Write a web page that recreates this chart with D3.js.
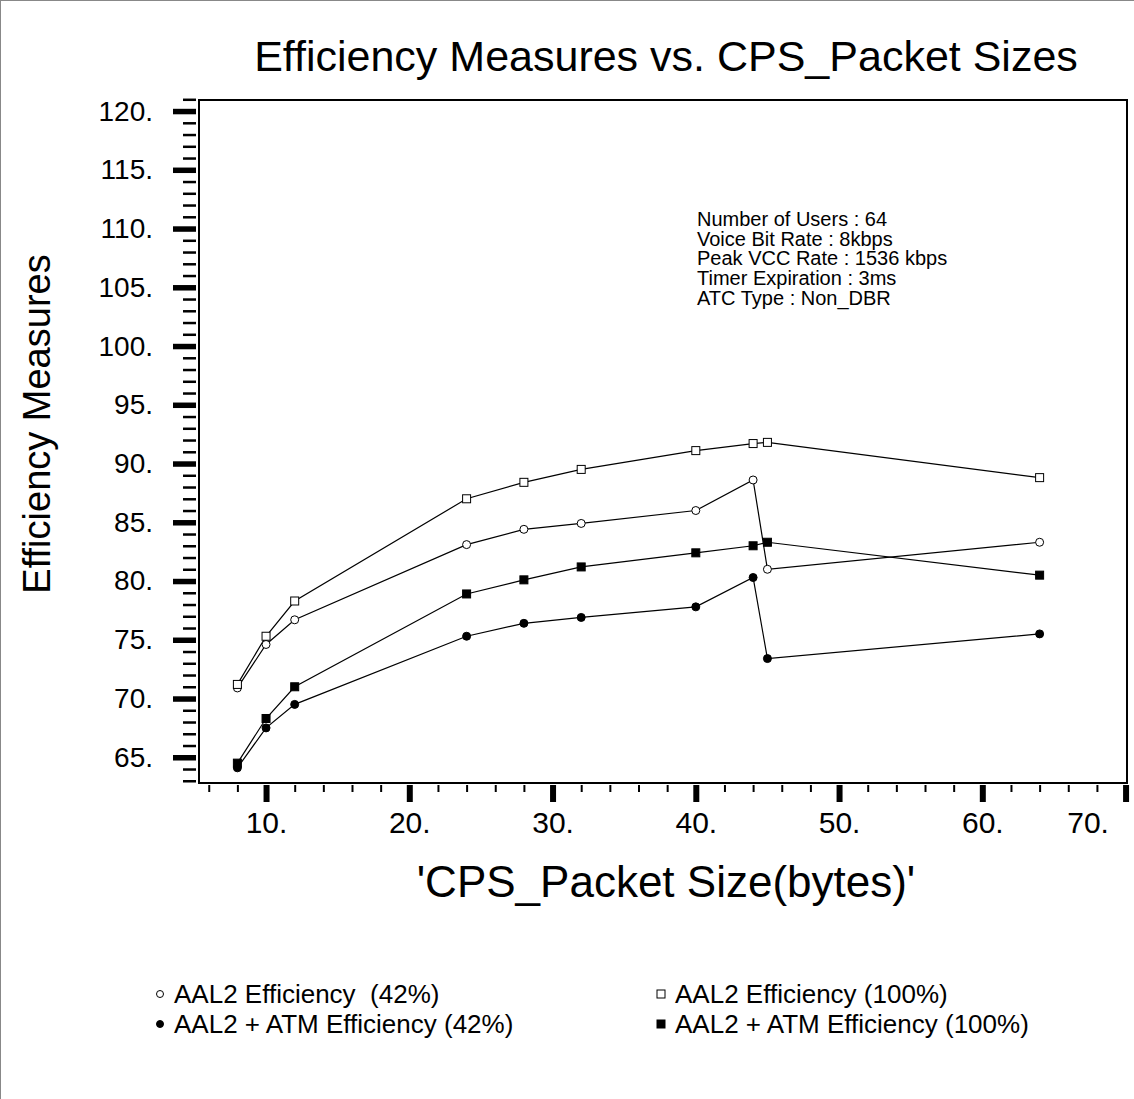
<!DOCTYPE html>
<html>
<head>
<meta charset="utf-8">
<script src="https://cdn.jsdelivr.net/npm/d3@7"></script>
<style>
  html, body { margin: 0; padding: 0; background: #fff; }
  svg { display: block; font-family: "Liberation Sans", Arial, Helvetica, sans-serif; }
</style>
</head>
<body>
<svg id="chart" width="1134" height="1099"></svg>
<script>
// ---- data ----
const packetSizes = [8, 10, 12, 24, 28, 32, 40, 44, 45, 64];
const aal2Eff42   = [70.9, 74.6, 76.7, 83.1, 84.4, 84.9, 86.0, 88.6, 81.0, 83.3];
const aal2Eff100  = [71.2, 75.3, 78.3, 87.0, 88.4, 89.5, 91.1, 91.7, 91.8, 88.8];
const aal2AtmEff42  = [64.1, 67.5, 69.5, 75.3, 76.4, 76.9, 77.8, 80.3, 73.4, 75.5];
const aal2AtmEff100 = [64.5, 68.3, 71.0, 78.9, 80.1, 81.2, 82.4, 83.0, 83.3, 80.5];

const yMajorTicks = [65, 70, 75, 80, 85, 90, 95, 100, 105, 110, 115, 120];
const xMajorTicks = [10, 20, 30, 40, 50, 60, 70];
const yMinorTicks = d3.range(63, 122, 1).filter(v => v % 5 !== 0);
const xMinorTicks = d3.range(6, 71, 2).filter(v => v % 10 !== 0);

const titleText = "Efficiency Measures vs. CPS_Packet Sizes";
const xTitle = "'CPS_Packet Size(bytes)'";
const yTitle = "Efficiency Measures";
const noteLines = [
  "Number of Users : 64",
  "Voice Bit Rate : 8kbps",
  "Peak VCC Rate : 1536 kbps",
  "Timer Expiration : 3ms",
  "ATC Type : Non_DBR"
];
const seriesNames = [
  "AAL2 Efficiency  (42%)",
  "AAL2 + ATM Efficiency (42%)",
  "AAL2 Efficiency (100%)",
  "AAL2 + ATM Efficiency (100%)"
];

// ---- layout ----
const svg = d3.select("#chart");
const plot = { left: 199, top: 100, right: 1127, bottom: 783 };

const x = d3.scaleLinear().domain([5.32, 70.1]).range([plot.left, plot.right]);
const y = d3.scaleLinear().domain([62.81, 120.94]).range([plot.bottom, plot.top]);

// outer border (top & left edge of the picture)
svg.append("line").attr("x1", 0.5).attr("y1", 0).attr("x2", 0.5).attr("y2", 1099)
  .attr("stroke", "#888").attr("stroke-width", 1);
svg.append("line").attr("x1", 0).attr("y1", 0.5).attr("x2", 1134).attr("y2", 0.5)
  .attr("stroke", "#888").attr("stroke-width", 1);

// title
svg.append("text").attr("x", 666).attr("y", 71).attr("text-anchor", "middle")
  .attr("font-size", 43).text(titleText);

// frame
svg.append("rect")
  .attr("x", plot.left).attr("y", plot.top)
  .attr("width", plot.right - plot.left).attr("height", plot.bottom - plot.top)
  .attr("fill", "none").attr("stroke", "#000").attr("stroke-width", 2);

// y axis: minor + major
const yMinorAxis = d3.axisLeft(y).tickValues(yMinorTicks).tickSize(13).tickFormat("");
const gyMinor = svg.append("g").attr("transform", "translate(196,0)").call(yMinorAxis);
gyMinor.select(".domain").remove();
gyMinor.selectAll("line").attr("stroke-width", 2.5);

const yMajorAxis = d3.axisLeft(y).tickValues(yMajorTicks).tickSize(23).tickPadding(20)
  .tickFormat(d => d + ".");
const gyMajor = svg.append("g").attr("transform", "translate(196,0)").call(yMajorAxis);
gyMajor.select(".domain").remove();
gyMajor.selectAll("line").attr("stroke-width", 5.5);
gyMajor.selectAll("text").attr("font-size", 28).attr("fill", "#000")
  .style("font-family", "'Liberation Sans', Arial, sans-serif");

// x axis: minor + major
const xMinorAxis = d3.axisBottom(x).tickValues(xMinorTicks).tickSize(7).tickFormat("");
const gxMinor = svg.append("g").attr("transform", "translate(0,785)").call(xMinorAxis);
gxMinor.select(".domain").remove();
gxMinor.selectAll("line").attr("stroke-width", 2);

const xMajorAxis = d3.axisBottom(x).tickValues(xMajorTicks).tickSize(17).tickPadding(10)
  .tickFormat(d => d + ".");
const gxMajor = svg.append("g").attr("transform", "translate(0,785)").call(xMajorAxis);
gxMajor.select(".domain").remove();
gxMajor.selectAll("line").attr("stroke-width", 6);
gxMajor.selectAll("text").attr("font-size", 30).attr("fill", "#000")
  .style("font-family", "'Liberation Sans', Arial, sans-serif");
// last label is pulled inside the picture, as in the reference
gxMajor.selectAll(".tick").filter(d => d === 70).select("text").attr("dx", -38);

// axis titles
svg.append("text").attr("x", 666).attr("y", 897).attr("text-anchor", "middle")
  .attr("font-size", 44).text(xTitle);
svg.append("text")
  .attr("transform", "translate(50,424) rotate(-90)")
  .attr("text-anchor", "middle").attr("font-size", 38).text(yTitle);

// annotation
const note = svg.append("text").attr("x", 697).attr("y", 226).attr("font-size", 20);
noteLines.forEach((t, i) => {
  note.append("tspan").attr("x", 697).attr("dy", i === 0 ? 0 : 19.7).text(t);
});

// series
const series = [
  { vals: aal2Eff42, shape: "circle", fill: "#fff" },
  { vals: aal2AtmEff42, shape: "circle", fill: "#000" },
  { vals: aal2Eff100, shape: "square", fill: "#fff" },
  { vals: aal2AtmEff100, shape: "square", fill: "#000" }
];
const line = d3.line().x(d => x(d[0])).y(d => y(d[1]));

series.forEach(s => {
  const pts = packetSizes.map((p, i) => [p, s.vals[i]]);
  svg.append("path").datum(pts).attr("d", line)
    .attr("fill", "none").attr("stroke", "#000").attr("stroke-width", 1.2);
});
series.forEach(s => {
  const pts = packetSizes.map((p, i) => [p, s.vals[i]]);
  const g = svg.append("g");
  if (s.shape === "circle") {
    g.selectAll("circle").data(pts).join("circle")
      .attr("cx", d => x(d[0])).attr("cy", d => y(d[1])).attr("r", 4)
      .attr("fill", s.fill).attr("stroke", "#000").attr("stroke-width", 1);
  } else {
    g.selectAll("rect").data(pts).join("rect")
      .attr("x", d => x(d[0]) - 4).attr("y", d => y(d[1]) - 4)
      .attr("width", 8).attr("height", 8)
      .attr("fill", s.fill).attr("stroke", "#000").attr("stroke-width", 1);
  }
});

// legend
const legendItems = [
  { name: seriesNames[0], shape: "circle", fill: "#fff", lx: 160, ly: 994 },
  { name: seriesNames[1], shape: "circle", fill: "#000", lx: 160, ly: 1024 },
  { name: seriesNames[2], shape: "square", fill: "#fff", lx: 661, ly: 994 },
  { name: seriesNames[3], shape: "square", fill: "#000", lx: 661, ly: 1024 }
];
legendItems.forEach(it => {
  if (it.shape === "circle") {
    svg.append("circle").attr("cx", it.lx).attr("cy", it.ly).attr("r", 3.5)
      .attr("fill", it.fill).attr("stroke", "#000").attr("stroke-width", 1);
  } else {
    svg.append("rect").attr("x", it.lx - 4).attr("y", it.ly - 4)
      .attr("width", 8).attr("height", 8)
      .attr("fill", it.fill).attr("stroke", "#000").attr("stroke-width", 1);
  }
  svg.append("text").attr("x", it.lx + 14).attr("y", it.ly + 9)
    .attr("font-size", 26).style("white-space", "pre").text(it.name);
});
</script>
</body>
</html>
